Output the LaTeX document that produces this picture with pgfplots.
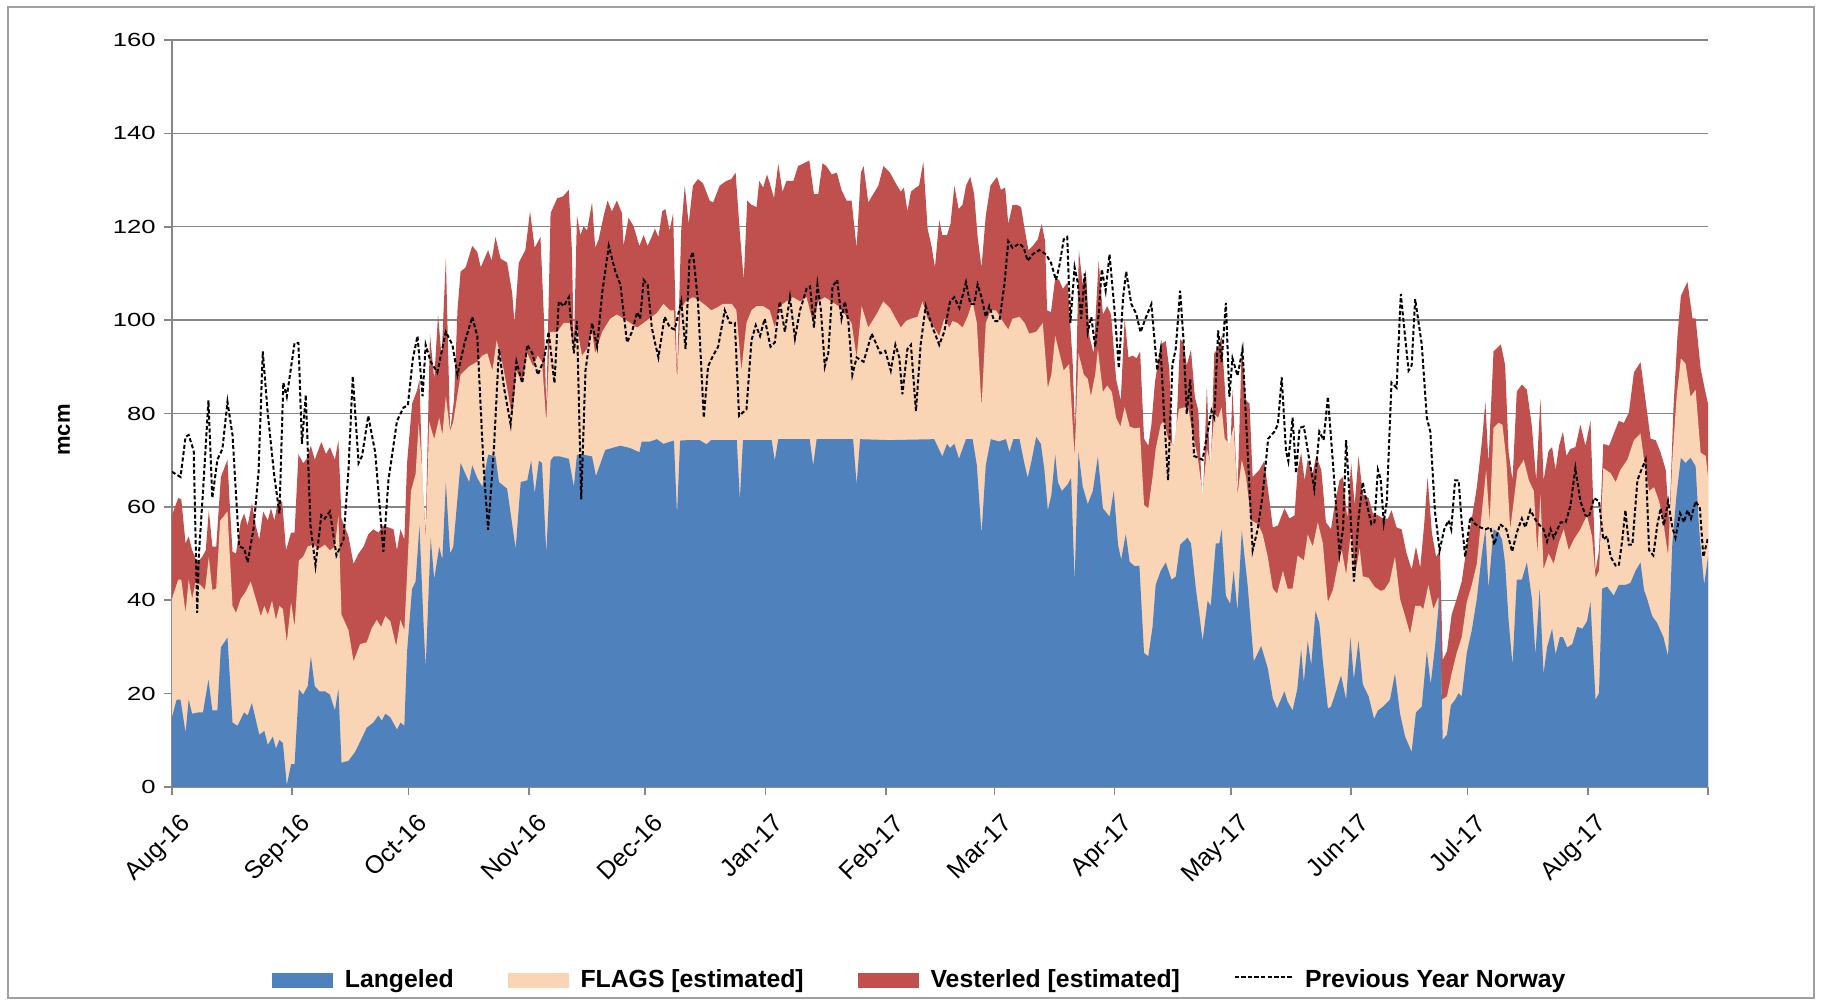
\documentclass[border=0pt]{standalone}
\usepackage{fontspec}
\setmainfont{Liberation Sans}
\newfontfamily\tickfont[FakeStretch=1.35]{Liberation Sans}
\usepackage{pgfplots}
\pgfplotsset{compat=1.18}
\definecolor{lang}{RGB}{79,129,189}
\definecolor{flags}{RGB}{250,213,181}
\definecolor{vest}{RGB}{192,80,77}
\definecolor{axgray}{RGB}{134,134,134}
\definecolor{framegray}{RGB}{160,160,160}
\begin{document}
\begin{tikzpicture}
\useasboundingbox (-86pt,-109pt) rectangle (825.5pt,393.5pt);
\begin{axis}[
  at={(0pt,0pt)}, anchor=south west,
  scale only axis, width=768pt, height=373.5pt,
  xmin=0, xmax=396, ymin=0, ymax=160,
  ytick={0,20,...,160},
  xtick={0,31,61,92,122,153,184,212,243,273,304,334,365,396},
  xticklabels={Aug-16,Sep-16,Oct-16,Nov-16,Dec-16,Jan-17,Feb-17,Mar-17,Apr-17,May-17,Jun-17,Jul-17,Aug-17,{}},
  axis x line*=bottom, axis y line*=left,
  axis line style={draw=axgray, line width=0.8pt, -},
  tick style={draw=axgray, line width=0.8pt},
  tick align=outside, major tick length=4pt,
  ymajorgrids, grid style={draw=axgray, line width=0.7pt},
  /pgf/number format/assume math mode=true,
  yticklabel style={font=\tickfont\fontsize{9.5}{11}\selectfont, anchor=east, inner sep=0pt, xshift=-4pt},
  xticklabel style={font=\fontsize{12.5}{14}\selectfont, rotate=45, anchor=north east, inner sep=0pt, xshift=-3.5pt, yshift=-8.5pt},
  ylabel={mcm},
  ylabel style={font=\bfseries\fontsize{11}{13}\selectfont, at={(axis description cs:-0.0703,0.478)}, anchor=center},
  legend style={at={(0.4875,-0.2584)}, anchor=center, draw=none, fill=none,
    legend columns=4, font=\bfseries\fontsize{12.4}{14}\selectfont,
    /tikz/every even column/.append style={column sep=25pt}},
  legend cell align=left,
]
\addlegendimage{legend image code/.code={\fill[lang] (0pt,-3.5pt) rectangle (30pt,3.5pt); \path (34pt,0pt);}}
\addlegendentry{Langeled}
\addlegendimage{legend image code/.code={\fill[flags] (0pt,-3.5pt) rectangle (30pt,3.5pt); \path (34pt,0pt);}}
\addlegendentry{FLAGS [estimated]}
\addlegendimage{legend image code/.code={\fill[vest] (0pt,-3.5pt) rectangle (30pt,3.5pt); \path (34pt,0pt);}}
\addlegendentry{Vesterled [estimated]}
\addlegendimage{legend image code/.code={\draw[black, line width=0.6pt, dash pattern=on 2.2pt off 1.1pt] (0pt,1.5pt) -- (29pt,1.5pt); \path (33pt,0pt);}}
\addlegendentry{Previous Year Norway}

% Vesterled [estimated]: top of stack (Langeled + FLAGS + Vesterled)
\addplot[fill=vest, draw=none, forget plot] coordinates {
(0,58.2)(1.6,61.9)(2.4,61.6)(3.5,52.2)(4.3,53.7)(5.2,50.7)(6.5,48.1)(7.8,49.3)(8.7,50.7)(9.5,59.3)(10.4,51.5)(11.4,51.5)(12.6,66.4)(14.3,70.1)(14.9,60.4)(15.6,50.4)(16.5,50)(17.7,56.7)(18.6,58.6)(19.5,56)(20.6,60.8)(21.6,56)(22.5,53)(23.5,59)(24.7,57.1)(25.5,59.7)(26.4,57.1)(27.3,61.2)(28.4,61.2)(29.4,50.7)(30.7,54.5)(31.6,54.5)(32.6,71.3)(33.8,69.4)(34.6,70.1)(35.8,73.1)(36.8,70.1)(38.5,73.9)(39.7,71.3)(40.7,72.8)(42,70.1)(42.9,74.3)(43.7,57.5)(45.5,53.7)(46.8,47.8)(48.1,50)(49.4,51.5)(50.6,54.1)(51.9,55.2)(53.2,54.5)(54.5,56)(55.8,55.6)(57.1,55.2)(58,50.7)(58.9,55.2)(59.9,53)(60.6,69.4)(61.9,82.1)(63.2,85)(63.8,87.3)(64.6,64.3)(65.4,54.7)(66.5,97)(67.6,87.4)(68.6,101.2)(69.5,92)(70.6,113.2)(71.7,76.3)(72.7,82.8)(73.6,102.1)(74.4,110.4)(75.7,111.3)(77.4,115.9)(78.7,114.6)(79.6,111.3)(81.5,115)(82.4,112.7)(83.4,117.8)(84.7,113.2)(86.4,112.3)(87.7,105.8)(88.3,99.4)(89.4,112.3)(91.1,115)(92.3,123.3)(93.5,115.5)(95,117.8)(95.9,100.3)(96.5,80.9)(97.6,122.9)(99.3,126.1)(100.8,126.5)(102.3,127.9)(103.1,115)(103.6,93.8)(104.4,122.4)(105.3,118.2)(106.1,120.1)(107,119.2)(108.3,125.2)(109.1,115.5)(110,117.3)(111.3,122.4)(112.3,125.6)(113.4,123.3)(114.7,125.6)(116,122.9)(116.4,115.9)(117.7,121.9)(119,120.1)(120.5,115.9)(121.6,118.2)(122.6,115.9)(123.6,117.7)(124.5,119.6)(125.4,117.8)(126.4,123.3)(127.2,123.8)(128.3,119.2)(129.2,122.9)(130.2,88.3)(131.3,119.6)(132.2,128.8)(133.2,120.6)(134.3,128.8)(135.6,130.2)(136.9,129.3)(138.6,125.6)(139.5,125.2)(141.2,128.8)(142.9,129.8)(144.2,130.2)(145.3,131.6)(146.4,118.7)(147.4,108.6)(148.3,125.6)(149.4,124.7)(150.7,124.2)(151.4,129.8)(152.4,128.4)(153.4,131.2)(154.3,128.8)(155.2,126.1)(156.3,133.5)(157.4,127.5)(158.4,129.8)(160.2,129.8)(161.4,133)(162.7,133.5)(164.3,134.2)(165.5,127)(166.6,127)(167.7,133.6)(168.7,133)(170.1,131.2)(171.4,131.6)(172.6,127.9)(173.9,125.6)(175.2,125.6)(176.5,115.5)(177.6,131.6)(178.3,133)(179.5,125.2)(180.8,127)(182.1,128.8)(183.4,133)(185.1,131.6)(186.6,129.3)(187.9,127.5)(188.7,128.4)(189.6,123.3)(190.5,127.5)(191.8,128.4)(192.6,128.8)(193.7,133.9)(194.8,119.6)(195.8,115.9)(196.7,111.3)(197.8,121.5)(198.6,118.2)(199.8,118.2)(200.7,120.6)(201.7,128.8)(202.8,123.8)(203.8,124.7)(204.7,128.8)(205.8,130.7)(206.8,127)(207.7,117.8)(208.7,111.3)(209.8,122.4)(211,128.8)(212.7,130.7)(213.7,127.9)(214.8,128.4)(215.6,120.6)(216.7,124.7)(217.8,124.7)(218.9,124.2)(219.8,119.6)(220.8,115)(221.9,115.9)(223.2,117.3)(224.2,120.6)(225.1,116.9)(225.6,102.1)(226.6,101.7)(227.7,109)(228.7,108.6)(229.7,106.7)(230.9,108.1)(232.2,91.1)(232.8,76.3)(233.8,115)(234.8,107.6)(235.6,110.9)(236.5,96.6)(237.6,92.9)(238.9,112.7)(240,101.2)(241.1,103)(242.1,101.2)(243.4,87.4)(244.6,82.8)(245.6,100.3)(246.6,92)(247.7,92.4)(248.7,91.8)(249.6,93.3)(250.6,74.6)(251.7,73.1)(252.5,77.6)(253.4,86.6)(254.9,94.8)(256.2,95.5)(257.1,89.6)(257.9,73.1)(258.8,73.9)(259.9,95.9)(260.8,95.1)(261.6,90.3)(262.7,93.7)(263.7,83.6)(264.6,80.6)(265.7,59.7)(266.8,85.8)(267.7,65.7)(268.7,92.9)(269.7,94)(270.6,96.6)(271.7,82.1)(272.6,65.7)(273.4,85.1)(274.7,62.7)(275.8,94.8)(276.9,82.8)(277.8,82.1)(278.6,66.4)(280.3,67.9)(281.6,69.8)(282.9,61.6)(283.8,55.6)(285.1,56)(286.8,59.7)(288.1,57.5)(289.4,58.2)(290.2,67.9)(291.1,71.6)(292,65.7)(292.8,70.1)(294.1,67.2)(295,70.9)(296.3,67.9)(297.5,56.7)(298.8,55.2)(299.9,61.2)(301,65.7)(301.9,66.4)(303,57.5)(304,69.4)(304.9,60.4)(305.9,70.9)(307,62.7)(308.5,61.9)(309.6,58.6)(310.9,58.2)(312.2,57.5)(313.5,57.5)(314.4,59.3)(315.7,55.6)(317,55.2)(318.3,50)(319.6,46.6)(320.7,51.5)(321.8,47)(322.8,56)(323.7,66.4)(324.8,54.5)(325.9,49.3)(326.9,50.7)(327.6,27.2)(328.7,29.1)(329.9,36.9)(331.2,40.3)(332.5,44)(333.8,51.5)(335.1,57.5)(336.4,64.2)(337.7,73.9)(338.6,82.5)(339.4,69.4)(340.7,93.3)(342.6,94.8)(343.7,90.3)(344.6,71.6)(345.6,65.7)(346.7,84.7)(348,86.2)(349.3,85.1)(350.6,77.2)(351.7,65.7)(352.8,83.2)(353.6,65.7)(354.9,72)(355.8,72.8)(356.7,67.9)(357.6,73.1)(358.6,76.1)(359.5,70.9)(360.5,72.4)(361.8,72.8)(363.1,77.6)(364.4,73.1)(365.7,78.4)(367,46.3)(367.9,50.7)(369,73.5)(370.5,73.1)(371.7,75.7)(373,78.4)(374.3,78)(375.6,80.2)(376.9,88.8)(378.6,91)(379.9,82.8)(381.2,74.6)(382.5,74.3)(383.8,71.6)(385.1,67.9)(386,56.1)(387.1,81.3)(388.1,96.3)(389,105.2)(390.7,108.2)(392,100.4)(392.8,100.4)(394.1,89.6)(395.4,84.3)(396,82.1)
} \closedcycle;

% FLAGS [estimated]: cumulative top (Langeled + FLAGS)
\addplot[fill=flags, draw=none, forget plot] coordinates {
(0,40.3)(1.6,44.4)(2.4,44.4)(3.5,37.3)(4.3,44.4)(5.2,40.3)(6,43.7)(7.3,43.3)(8.5,42.2)(9.5,49.3)(10.4,42.2)(11.4,42.5)(12.4,57)(14.3,59)(15.6,38.8)(16.5,37.3)(17.7,40.3)(19,41.8)(20.3,44)(21.6,40.3)(22.9,36.6)(23.8,38.8)(24.7,36.9)(25.8,39.9)(26.8,35.8)(27.7,38.8)(28.6,38.1)(29.6,31)(30.7,39.6)(31.6,34.3)(32.7,48.5)(33.8,49.3)(35,51.5)(36.4,51.9)(38,51.1)(39.4,51.9)(40.7,50.7)(42,51.5)(42.9,58.2)(43.7,36.9)(45.5,33.6)(46.8,26.9)(48.5,30.6)(50.2,31)(51.5,34)(52.8,35.8)(53.9,34.3)(55,36.6)(56.3,35.5)(57.8,30.2)(58.9,35.8)(59.9,33.6)(60.6,45.5)(61.6,63.4)(62.8,67)(63.6,78)(64.5,68)(65.4,53.3)(66.3,78.2)(67.6,74.5)(68.9,79.1)(69.7,75.4)(70.6,83.7)(71.7,76.3)(72.5,78.2)(74.4,88.3)(76.6,90.1)(78.7,91.1)(80,92.4)(81.3,92.9)(82.6,89.2)(83.7,95.7)(85.1,91.1)(86.4,85.5)(87.7,79.1)(88.8,89.2)(90.3,86.5)(91.6,92.9)(93.1,90.1)(94.3,92.4)(95.4,91.1)(96.5,78.2)(97.4,97.5)(99.3,97.5)(101,99.4)(102.5,99.4)(103.6,93.8)(104.4,98.4)(105.7,92.4)(107,93.8)(108.3,97.5)(109.1,92.9)(110.9,97.5)(113,100.3)(114.7,101.2)(116.4,100.3)(118.1,99.4)(119.9,98.4)(121.6,99.4)(123.3,100.5)(125,101.5)(126.7,103.5)(128.4,102.1)(129.4,102.1)(130.2,87.4)(131.1,102.1)(132.4,104)(134.3,104.9)(135.6,104.4)(137.8,103)(139,102.1)(140.3,102.6)(142.1,103.5)(144.3,103.5)(145.5,102.1)(146.8,89.2)(148.1,99.4)(149.4,102.1)(150.7,103)(152.4,103)(154.1,102.1)(155.4,98.4)(156.7,103)(158.4,104)(160.1,104.9)(161.9,104)(163.6,104.9)(165.3,99.4)(166.6,104)(168.3,104.9)(170,104)(171.8,103)(173.5,101.2)(175.2,99.4)(176.5,92)(177.8,103)(179.5,98.4)(181.6,101.2)(183.4,104)(185.1,102.6)(186.6,100.3)(187.9,98.4)(189.2,99.8)(190.5,100.3)(192.2,100.7)(193.5,104)(194.8,100.3)(196.5,98.4)(197.8,96.6)(199.1,100.3)(200.4,98.4)(201.2,99.8)(202.5,99.4)(203.8,98.4)(205.1,100.7)(206.4,104)(207.5,99.4)(208.7,81.4)(209.8,99.4)(211.1,102.1)(212.4,102.1)(213.7,100.3)(215.6,98)(216.7,100.3)(218.5,100.7)(219.8,99.4)(221,97.1)(222.8,97.5)(224.5,99.4)(225.8,85.5)(226.7,88.3)(227.7,96.6)(228.8,92.9)(229.9,89.2)(231.3,90.6)(232.7,70.8)(233.7,92.9)(235.1,88.3)(236.1,87.4)(236.9,83.7)(238,88.3)(238.7,93.8)(240,84.6)(241.1,86)(242.3,84.6)(243.4,79.1)(244.5,77.2)(245.6,81.4)(246.9,77.2)(248.2,76.8)(249.5,77)(250.6,60.4)(251.7,59.7)(252.8,66.4)(253.6,72.4)(254.9,77.6)(255.7,78.4)(256.8,74.6)(258.2,73.1)(259.6,81)(260.9,81.3)(262,81.3)(263.1,75.7)(264.4,70.9)(265.7,62.7)(266.8,72.4)(267.7,69.4)(268.7,79.9)(269.7,79.1)(270.6,81.3)(271.4,74.6)(272.6,73.5)(273.7,77.2)(274.7,62.7)(275.8,70.1)(276.9,66.4)(278.2,57.1)(280,56.3)(281.2,54.1)(282.5,49.3)(283.8,42.5)(284.9,41.4)(286.4,46.3)(287.6,42.5)(288.9,42.5)(290.2,49.6)(291.8,48.5)(292.8,54.1)(294.1,51.5)(295.4,56.7)(296.7,52.2)(298,39.6)(299.3,42.2)(300.6,47.8)(301.6,50.7)(302.7,45.5)(304,55.2)(305,45.5)(306.2,51.1)(307,45.1)(308.5,44.8)(310,42.9)(311.6,42)(312.6,42.3)(313.9,44)(315.3,49.3)(316.6,40.3)(317.9,36.6)(319.2,32.8)(320.5,38.8)(321.8,38.8)(322.6,38.1)(323.9,43.3)(325.2,38.1)(326.5,40.7)(327.4,18.7)(328.7,19.4)(329.9,24.3)(331.2,28.7)(332.5,32.1)(333.8,39.6)(335.1,43.3)(336.4,47.8)(337.7,59)(338.8,67.9)(339.7,56.7)(340.7,76.9)(342,78)(343,77.6)(344,70.1)(345,55.2)(345.9,61.2)(346.9,67.9)(348.5,70.1)(349.8,65.7)(351.1,63.4)(352,50)(352.8,62.7)(353.6,46.6)(354.9,50)(356.2,47.8)(357.5,52.2)(358.8,55.2)(360.1,50.7)(361.4,53)(363.1,55.2)(364.8,58.2)(366.1,53.7)(367,44.8)(367.9,46.3)(369,68.3)(370.9,67.2)(372.2,65.3)(373.4,67.9)(375.2,70.1)(376.9,74.3)(378.6,75.7)(379.5,70.1)(380.8,63.4)(382.1,64.2)(383.4,61.2)(384.6,56)(385.7,49.6)(386.8,70.1)(387.9,83.6)(389,91.8)(390.2,90.7)(391.5,83.6)(392.8,85.1)(394.1,71.6)(395.4,70.9)(396,66.4)
} \closedcycle;

% Langeled
\addplot[fill=lang, draw=none, forget plot] coordinates {
(0,15.0)(1.2,18.7)(2.2,18.7)(3.5,11.6)(4.3,18.7)(5.2,15.7)(7,16)(8,16)(9.4,23)(10.4,16.4)(11.7,16.4)(12.6,29.9)(14.3,32)(15.6,13.8)(16.9,13.1)(18.6,16)(19.5,15.3)(20.6,18)(22.5,11.2)(23.8,12)(24.7,9)(26,10.8)(26.8,8.2)(27.7,10.1)(28.6,9.4)(29.6,0.4)(30.7,4.9)(31.6,4.9)(32.7,20.9)(33.8,19.8)(35,21.6)(35.8,28)(36.8,21.6)(38,20.5)(39.4,20.5)(40.7,19.8)(42,16.4)(42.9,21)(43.7,5.2)(45.5,5.6)(47.2,7.5)(48.5,9.7)(50.2,12.7)(51.9,13.8)(53.2,15.3)(54.1,14.2)(55,15.7)(56.3,14.9)(58,12.3)(58.9,13.8)(59.9,13.1)(60.6,29)(61.9,42.5)(62.8,44)(63.8,56)(64.9,34)(65.4,25.6)(66.7,53.3)(67.6,44.5)(68.9,51.4)(69.7,48.7)(70.6,65.3)(71.7,50)(72.5,51.4)(74.4,69.4)(76.6,65.3)(77.4,68.9)(78.7,66.2)(80,64.3)(81.5,71.2)(83.4,70.8)(84.3,65.3)(86.4,63.9)(88.6,51)(89.9,65.3)(91.6,65.7)(92.6,69.9)(93.5,62.9)(94.6,69.9)(95.4,69.4)(96.5,50)(97.6,69.9)(98.4,70.8)(100,70.8)(102.3,70.3)(103.6,64.3)(104.4,71.2)(106,71.2)(108.3,70.8)(109.3,66.6)(111.7,72.2)(115.6,73.1)(118.1,72.6)(120.5,71.7)(121.1,74)(123.3,74)(125,74.5)(126.7,73.5)(129.4,74.2)(130.2,58.3)(131,74.2)(133,74.3)(136,74.3)(137.8,73.4)(139,74.3)(145.6,74.3)(146.4,61.6)(147.2,74.3)(154.6,74.3)(155.4,69.9)(156.3,74.5)(164.4,74.5)(165.3,68.9)(166.2,74.5)(175.6,74.5)(176.5,64.8)(177.4,74.5)(185,74.3)(196.5,74.5)(198.6,70.8)(199.8,73.5)(200.6,72.6)(201.7,73.5)(202.9,70.3)(204.7,74.5)(206.4,74.5)(207.5,68.9)(208.7,54.2)(209.8,68.9)(211.1,74.5)(213.2,74)(215,74.5)(215.9,71.7)(216.9,74.5)(218.5,74.5)(219.6,69.9)(220.6,66.2)(221.6,69.9)(222.8,75)(224,73.5)(224.9,68)(225.8,59.3)(226.7,62.5)(227.7,71.2)(228.4,65.3)(229.4,63.4)(230.9,64.8)(231.8,66.2)(232.7,44.1)(233.7,71.7)(234.8,64.3)(236.1,60.6)(237.4,63.4)(238.7,70.8)(240,59.7)(241.7,57.9)(242.8,63.4)(243.9,51.9)(244.7,48.7)(245.9,54.2)(246.9,48.2)(248.2,47.3)(249.4,47.4)(250.6,28.7)(251.7,28)(252.8,34.3)(253.6,43.3)(254.9,46.3)(256.2,48.1)(257.7,44.4)(258.8,45.1)(259.9,51.9)(261.8,53.4)(262.7,52.2)(264,42.2)(264.8,37.3)(265.7,31.3)(267,39.9)(267.8,38.8)(269.1,52.2)(270,52.2)(270.6,55.2)(271.7,41)(272.8,39.2)(273.7,46.3)(274.7,37.7)(275.8,54.9)(277.3,43.3)(278.9,26.9)(280.8,30.2)(282.5,25.4)(283.8,19)(284.9,16.8)(286.8,20.5)(287.6,18.3)(288.9,16.4)(290.1,20.9)(291.1,29.5)(291.8,22.4)(292.8,31.3)(293.7,26.1)(294.8,37.7)(295.8,35.1)(296.7,26.9)(298,16.8)(298.8,17.2)(300.1,20.5)(301.4,23.9)(302.7,18.7)(303.8,32.1)(304.7,23.1)(305.9,31.3)(307,22)(308.5,19.4)(309.9,14.6)(310.9,16.4)(312.2,17.2)(314,18.7)(315.3,24.3)(316.6,15.7)(317.9,10.8)(319.6,7.5)(320.7,16)(322.2,17.2)(323.5,29.1)(324.5,22)(325.6,29.9)(326.8,41.4)(327.6,10.1)(328.7,11.2)(329.7,17.5)(330.8,18.7)(331.7,20.1)(332.5,19.4)(333.8,28.7)(335.1,33.6)(336.4,40.3)(337.7,50)(338.6,55.2)(339.4,42.5)(340.7,55.2)(342,54.5)(342.9,53)(343.7,47.8)(344.6,35.5)(345.6,26.1)(346.7,44.4)(348,44.4)(349.3,48.1)(350.6,40.3)(351.5,28.4)(352.6,42.5)(353.6,24.3)(354.5,29.9)(355.8,33.9)(356.7,28.4)(357.8,32.1)(358.6,32.1)(359.7,29.9)(361,30.6)(362.3,34.3)(363.6,33.9)(364.8,35.5)(365.7,39.6)(367,18.7)(367.9,20.1)(368.7,42.5)(370,42.9)(371.7,41)(373,43.3)(374.7,43.3)(376,43.7)(377.3,46.3)(378.6,48.1)(379.5,42.2)(380.3,40.3)(381.6,36.6)(382.9,35.1)(384.5,32.1)(385.7,28)(386.8,52.2)(387.9,62.7)(389,70.5)(390.2,69.4)(391.5,70.5)(392.8,68.7)(393.7,55.2)(395,43.3)(396,49.3)
} \closedcycle;

% Previous Year Norway
\addplot[black, line width=1pt, dash pattern=on 2pt off 1.2pt, forget plot] coordinates {
(0,67.5)(2.2,66.4)(3.5,75)(4.3,75.4)(5.6,72)(6.5,37.3)(6.9,49.3)(8,63.4)(9.4,82.8)(10.4,61.9)(11.7,70.1)(13,72.4)(14.3,82.5)(15.6,75.4)(17.3,51.5)(18.6,51.1)(19.5,48.1)(21,55.2)(22.3,67.2)(23.4,93.3)(24.7,79.9)(26.4,66.4)(27.7,58.6)(28.7,86.6)(29.6,83.6)(31.6,95.1)(32.6,95.1)(33.5,73.5)(34.5,84)(35.7,56)(37,47.4)(38.5,58.2)(39.4,57.5)(40.7,59)(42.4,49.6)(44.2,53)(45.5,67.9)(46.6,88)(48.1,69.4)(49,70.9)(50.6,79.5)(52.4,71.6)(54.5,50.4)(55.8,65.7)(58,78.4)(59.7,81.3)(60.8,81.7)(62.1,91.8)(63.3,96.6)(64.6,83.7)(65.4,94.7)(66.7,91.1)(68.4,88.8)(70.6,97.5)(72.3,94.7)(73.6,88.3)(75.3,94.7)(77.4,100.7)(78.7,96.6)(80.3,68.9)(81.5,55.1)(83,72.6)(84.3,93.8)(85.6,85.5)(87.3,77.7)(88.8,91.1)(90.3,86.5)(91.6,94.7)(92.9,92.9)(94.3,88.3)(95.9,91.5)(97.1,97.5)(98.6,86.5)(99.7,104)(101,103)(102.3,104.9)(103.6,92.9)(104.4,99.8)(105.5,61.6)(106.6,89.2)(108.3,99.4)(109.6,94.3)(110.9,105.8)(112.6,115.9)(114.3,110.4)(115.6,107.6)(117.3,95.2)(118.6,97.5)(119.9,101.7)(120.7,100.3)(121.6,108.6)(122.6,107.6)(123.7,98.4)(124.3,96)(125.4,92)(127,100.7)(128.4,98.4)(129.6,98)(131.3,104)(132.4,93.8)(133.4,112.7)(134.3,114.6)(135.6,104)(137.1,79.1)(138.2,90.1)(139.5,92.4)(140.8,94.3)(142.5,102.1)(143.8,99.4)(145.1,99.4)(146.2,79.5)(148.1,80.9)(149.4,95.7)(150.5,98.9)(151.6,96.6)(152.8,100.3)(154.3,94.3)(155.4,95.2)(156.7,104)(158,97.5)(159.3,104.9)(160.6,96.1)(161.9,102.1)(163.6,106.7)(164.5,107.2)(165.5,98.4)(166.4,107.6)(167.3,102.1)(168.3,90.1)(169.2,92.9)(170.3,107.2)(171.5,108.6)(172.6,100.3)(173.5,104)(174.4,99.4)(175.4,88.3)(176.5,92)(178.3,91.1)(180.4,97.1)(182.6,92.9)(183.9,93.4)(185.3,89.2)(186.5,94.7)(187.5,92)(188.3,84.1)(189.6,93.8)(190.5,94.7)(191.8,80.5)(193,94.7)(194.3,103)(196.1,98.4)(197.8,94.7)(199.1,97.5)(200.6,104)(201.7,104.9)(203,102.6)(204.7,108.1)(205.8,103.5)(206.8,103.5)(207.7,107.6)(208.7,104.9)(209.8,100.7)(210.7,103)(212,99.8)(213.3,99.8)(214.6,107.6)(215.6,116.9)(216.7,115.5)(218.5,116.4)(219.6,115.5)(220.6,112.7)(221.9,114.1)(223.6,115)(225.3,114.1)(226.6,112.3)(227.9,108.6)(228.7,111.3)(229.9,117.3)(230.8,117.8)(231.6,99.4)(232.7,111.3)(233.5,108.1)(234.4,100.3)(235.3,110)(236.1,97.5)(237,100.7)(238,94.3)(238.9,101.2)(239.7,110.9)(240.7,106.3)(241.7,114.1)(243,102.1)(244.1,89.7)(245.2,104.9)(246,110.4)(247.3,103.5)(248.6,101.3)(249.7,97.4)(251,100.4)(252.5,103.4)(254,89.2)(254.9,93.7)(255.8,79.1)(256.8,65.7)(257.9,90.3)(258.8,94)(259.9,106.3)(260.8,95.5)(261.6,79.9)(262.5,87.3)(263.5,70.9)(265.7,70.1)(267,76.1)(268,80.6)(268.7,79.1)(269.7,97.8)(270.6,91)(271.7,103.7)(272.6,83.6)(273.4,91.8)(274.7,88.1)(276,93.7)(277.3,72)(278.6,50.7)(279.9,55.2)(281.2,62.7)(282.6,74.6)(284.2,76.1)(285.1,77.6)(286.1,87.7)(287.2,72)(287.8,69.8)(288.9,79.1)(289.8,67.2)(290.7,76.9)(291.8,77.2)(293.2,70.1)(294.5,63.8)(295.8,76.1)(296.9,74.3)(298,83.6)(299.3,69.4)(301,50)(301.9,55.2)(302.7,74.3)(303.6,61.9)(304.7,44)(305.9,57.5)(307,65.3)(307.9,61.2)(309.2,56.3)(310,56.7)(310.9,67.9)(311.6,66)(312.4,56.7)(313.2,61.2)(314.4,86.6)(315.7,85.5)(316.8,105.6)(317.6,98.9)(318.8,89.2)(319.6,90.3)(320.5,104.5)(322.2,94.8)(323.5,79.1)(324.4,76.1)(325.6,59)(326.8,50.7)(328,55.2)(329.1,57.1)(329.8,55.2)(330.8,65.7)(331.7,65.7)(332.5,56.7)(333.4,49.3)(334.7,57.8)(336,56.3)(337.3,55.6)(338.6,55.2)(339.9,55.6)(340.9,51.9)(342.4,56.3)(344,55.2)(345.5,50.4)(346.7,54.5)(348,57.5)(348.9,55.6)(350.2,59.3)(351.9,56.7)(353.6,55.2)(354.5,52.6)(355.4,55.2)(356.2,53.4)(358,56.7)(359.3,56.7)(360.5,60.1)(361.8,68.3)(363.1,61.2)(364.4,58.2)(365.3,57.8)(366.6,61.9)(367.9,61.2)(369,53)(370,53.7)(370.9,49.3)(372.2,47.4)(373,47.4)(373.9,53)(374.7,59.3)(375.6,51.9)(376.5,51.9)(377.8,65.7)(379,68.3)(379.9,70.1)(380.8,50.7)(381.9,49.6)(382.9,56)(383.8,59.7)(384.6,56)(385.7,61.2)(386.8,55.6)(387.6,53.4)(388.8,58.6)(389.8,56.7)(390.7,59.3)(391.6,57.5)(392.8,61.2)(393.9,59.7)(394.8,49.3)(396,53.4)
};
\end{axis}
\draw[draw=framegray, line width=0.7pt] (-82pt,-105.5pt) rectangle (821pt,390pt);
\end{tikzpicture}
\end{document}
